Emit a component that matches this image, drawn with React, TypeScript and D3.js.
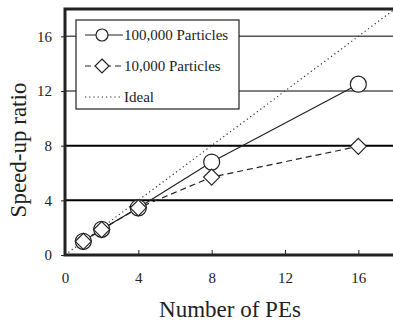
import { useEffect, useRef } from 'react';
import * as d3 from 'd3';

const pes = [1, 2, 4, 8, 16];
const large = [1.0, 1.88, 3.45, 6.8, 12.5];
const small = [1.0, 1.86, 3.45, 5.7, 7.95];
const yTicks = [0, 4, 8, 12, 16];
const xTicks = [0, 4, 8, 12, 16];
const legendLabels = ['100,000 Particles', '10,000 Particles', 'Ideal'];

const FONT = "'Liberation Serif', Tinos, 'Times New Roman', 'DejaVu Serif', serif";

const App = () => {
  const svgRef = useRef<SVGSVGElement>(null);

  useEffect(() => {
    const width = 393;
    const height = 324;
    const margin = { top: 9, right: -2, bottom: 69, left: 65 };

    const svg = d3.select(svgRef.current)
      .attr('width', width)
      .attr('height', height)
      .style('font-family', FONT);
    svg.selectAll('*').remove();

    const x = d3.scaleLinear().domain([0, 18]).range([margin.left, width - margin.right]);
    const y = d3.scaleLinear().domain([0, 18]).range([height - margin.bottom, margin.top]);

    // gridlines
    svg.append('g')
      .selectAll('line')
      .data(yTicks.filter(d => d > 0))
      .enter()
      .append('line')
      .attr('x1', x(0))
      .attr('x2', x(18))
      .attr('y1', d => y(d))
      .attr('y2', d => y(d))
      .attr('stroke', d => (d <= 8 ? '#000' : '#555'))
      .attr('stroke-width', d => (d <= 8 ? 2 : 1.5));

    // frame
    svg.append('rect')
      .attr('x', x(0))
      .attr('y', y(18))
      .attr('width', x(18) - x(0))
      .attr('height', y(0) - y(18))
      .attr('fill', 'none')
      .attr('stroke', '#222')
      .attr('stroke-width', 3);

    // axes ticks
    const xAxis = d3.axisBottom(x).tickValues(xTicks).tickSize(-5).tickPadding(17).tickSizeOuter(0);
    const gx = svg.append('g')
      .attr('transform', `translate(0, ${y(0)})`)
      .call(xAxis);
    gx.select('.domain').remove();
    gx.selectAll('.tick line').attr('stroke', '#222');
    gx.selectAll('.tick text')
      .style('font-family', FONT)
      .attr('font-size', 15)
      .attr('fill', '#222');

    const yAxis = d3.axisLeft(y).tickValues(yTicks).tickSize(4).tickPadding(9).tickSizeOuter(0);
    const gy = svg.append('g')
      .attr('transform', `translate(${x(0)}, 0)`)
      .call(yAxis);
    gy.select('.domain').remove();
    gy.selectAll('.tick line').attr('stroke', '#222');
    gy.selectAll('.tick text')
      .style('font-family', FONT)
      .attr('font-size', 15)
      .attr('fill', '#222');

    // axis titles
    svg.append('text')
      .attr('x', 230)
      .attr('y', 317)
      .attr('text-anchor', 'middle')
      .style('font-family', FONT)
      .attr('font-size', 23)
      .attr('fill', '#222')
      .text('Number of PEs');

    svg.append('text')
      .attr('transform', `translate(26, 150) rotate(-90)`)
      .attr('text-anchor', 'middle')
      .style('font-family', FONT)
      .attr('font-size', 23)
      .attr('fill', '#222')
      .text('Speed-up ratio');

    // ideal line
    svg.append('line')
      .attr('x1', x(0))
      .attr('y1', y(0))
      .attr('x2', x(18))
      .attr('y2', y(18))
      .attr('stroke', '#333')
      .attr('stroke-width', 1.2)
      .attr('stroke-dasharray', '1.2,3');

    const line = d3.line<number>()
      .x((_, i) => x(pes[i]))
      .y(d => y(d));

    svg.append('path')
      .attr('d', line(large))
      .attr('fill', 'none')
      .attr('stroke', '#222')
      .attr('stroke-width', 1.2);

    svg.append('path')
      .attr('d', line(small))
      .attr('fill', 'none')
      .attr('stroke', '#222')
      .attr('stroke-width', 1.2)
      .attr('stroke-dasharray', '6,4');

    const circle = d3.symbol().type(d3.symbolCircle).size(Math.PI * 64);
    const diamondPath = (s: number) => `M0,${-s}L${s},0L0,${s}L${-s},0Z`;

    svg.append('g')
      .selectAll('path')
      .data(large)
      .enter()
      .append('path')
      .attr('transform', (d, i) => `translate(${x(pes[i])}, ${y(d)})`)
      .attr('d', circle())
      .attr('fill', '#fff')
      .attr('stroke', '#222')
      .attr('stroke-width', 1.2);

    svg.append('g')
      .selectAll('path')
      .data(small)
      .enter()
      .append('path')
      .attr('transform', (d, i) => `translate(${x(pes[i])}, ${y(d)})`)
      .attr('d', diamondPath(8))
      .attr('fill', '#fff')
      .attr('stroke', '#222')
      .attr('stroke-width', 1.2);

    // legend
    const legend = svg.append('g');
    legend.append('rect')
      .attr('x', 76)
      .attr('y', 20)
      .attr('width', 163)
      .attr('height', 89)
      .attr('fill', '#fff')
      .attr('stroke', '#222')
      .attr('stroke-width', 1.2);

    const rowY = [35, 66, 97];
    const dashes = [null, '6,4', '1.2,3'];
    legendLabels.forEach((label, i) => {
      legend.append('line')
        .attr('x1', 85)
        .attr('x2', 123)
        .attr('y1', rowY[i])
        .attr('y2', rowY[i])
        .attr('stroke', '#222')
        .attr('stroke-width', 1.2)
        .attr('stroke-dasharray', dashes[i]);
      if (i === 0) {
        legend.append('path')
          .attr('transform', `translate(102, ${rowY[i]})`)
          .attr('d', d3.symbol().type(d3.symbolCircle).size(Math.PI * 36)())
          .attr('fill', '#fff')
          .attr('stroke', '#222')
          .attr('stroke-width', 1.2);
      } else if (i === 1) {
        legend.append('path')
          .attr('transform', `translate(102, ${rowY[i]})`)
          .attr('d', diamondPath(7))
          .attr('fill', '#fff')
          .attr('stroke', '#222')
          .attr('stroke-width', 1.2);
      }
      legend.append('text')
        .attr('x', 124)
        .attr('y', rowY[i])
        .attr('dy', '0.33em')
        .style('font-family', FONT)
        .attr('font-size', 15)
        .attr('fill', '#222')
        .text(label);
    });
  }, []);

  return <svg ref={svgRef} style={{ position: 'absolute', left: 0, top: 0 }}></svg>;
};

export default App;
